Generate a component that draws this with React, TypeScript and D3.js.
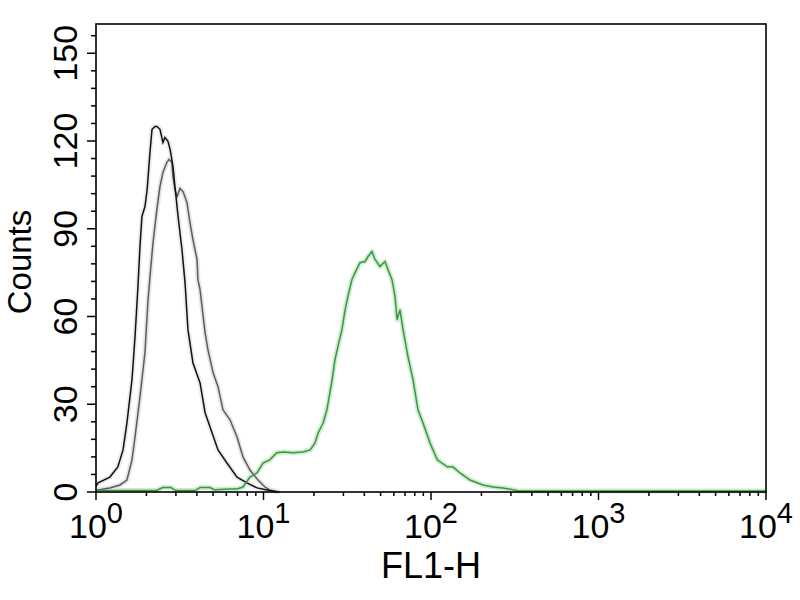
import React, { useEffect, useRef } from 'react';
import * as d3 from 'd3';

// [FL1-H, counts]
const blackControl: [number, number][] = [
  [1.0, 2], [1.03, 3.1], [1.21, 5.1], [1.35, 8.6], [1.45, 14.4], [1.53, 23.6], [1.64, 38.4],
  [1.71, 53.1], [1.78, 70.2], [1.83, 83.9], [1.88, 94.2], [1.96, 97.6], [2.02, 103.4],
  [2.1, 116.1], [2.16, 124], [2.25, 125], [2.31, 125], [2.41, 124], [2.51, 119.5],
  [2.58, 121.2], [2.69, 119.9], [2.77, 117.1], [2.88, 111.3], [2.96, 104.5], [3.09, 94.2],
  [3.26, 82.9], [3.4, 71.6], [3.54, 55.5], [3.79, 44.2], [4.18, 37.3], [4.48, 27.1],
  [4.79, 22.3], [5.35, 14.4], [6.05, 9.9], [6.95, 5.1], [7.97, 3.1], [9.15, 1.4],
  [10.5, 0.7], [12.0, 0],
];

const grayControl: [number, number][] = [
  [1.0, 0.5], [1.03, 0.7], [1.21, 1.4], [1.39, 2.4], [1.53, 4.1], [1.64, 11], [1.71, 18.8],
  [1.83, 32.5], [1.96, 47.6], [2.04, 64.7], [2.1, 73.6], [2.19, 85.3], [2.31, 96.6],
  [2.41, 104.5], [2.51, 109.2], [2.65, 112.7], [2.73, 113.7], [2.84, 112.7], [2.88, 107.9],
  [2.96, 103.4], [3.05, 101], [3.17, 103.8], [3.31, 102.7], [3.49, 99], [3.64, 92.1],
  [3.79, 86.3], [4.01, 79.5], [4.06, 72.6], [4.18, 69.2], [4.48, 54.5], [4.66, 48.6],
  [5.0, 40.8], [5.35, 36], [5.73, 28.1], [6.31, 24.7], [6.95, 18.8], [7.54, 12],
  [8.3, 7.5], [9.27, 4.1], [10.2, 1.7], [10.9, 0.7], [12.5, 0],
];

const greenStained: [number, number][] = [
  [1.0, 0.5], [2.3, 0.5], [2.5, 1.5], [2.8, 1.5], [3.0, 0.5], [3.9, 0.5], [4.18, 1.5],
  [4.48, 1.5], [4.79, 1.5], [5.1, 0.8], [6.31, 1], [6.95, 1], [7.54, 1.7], [8.3, 5.1],
  [9.14, 6.5], [9.94, 9.9], [10.9, 11], [12.0, 13.4], [13.1, 13.7], [15.0, 13.4],
  [17.2, 13.7], [19.0, 14.4], [20.3, 16.8], [21.2, 20.2], [22.7, 23.6], [23.9, 28.1],
  [25.7, 38.4], [26.7, 45.2], [27.8, 49.7], [29.4, 55.5], [30.7, 62.3], [31.9, 66.8],
  [33.7, 72.6], [35.2, 75], [37.7, 78.4], [40.4, 78.8], [42.1, 80.5], [44.4, 82.2],
  [46.3, 79.5], [49.6, 77.1], [53.1, 78.8], [55.4, 76], [58.5, 72.6], [61.0, 66.8],
  [62.7, 58.9], [65.3, 62.3], [68.1, 55.5], [72.9, 46.2], [78.1, 38.4], [83.6, 28.1],
  [89.6, 23.6], [98.6, 16.8], [109, 11], [125, 8.6], [135, 8.6], [149, 6.5], [171, 4.1],
  [204, 2.4], [235, 1.7], [269, 1.4], [340, 0.3], [10000, 0.3],
];

const yMajorTicks = [0, 30, 60, 90, 120, 150];
const xDecades = [0, 1, 2, 3, 4];

const FONT = 'Liberation Sans, Arial, Helvetica, sans-serif';

export default function App() {
  const svgRef = useRef<SVGSVGElement>(null);

  useEffect(() => {
    const svg = d3.select(svgRef.current);
    svg.selectAll('*').remove();

    const margin = { top: 24, right: 34, bottom: 108, left: 96 };
    const width = 800 - margin.left - margin.right;
    const height = 600 - margin.top - margin.bottom;

    const x = d3.scaleLog().domain([1, 10000]).range([0, width]);
    const y = d3.scaleLinear().domain([0, 160]).range([height, 0]);

    const g = svg.append('g').attr('transform', `translate(${margin.left},${margin.top})`);

    // histogram traces
    const line = d3
      .line<[number, number]>()
      .x((d) => x(d[0]))
      .y((d) => y(d[1]));

    const traces = [
      { data: greenStained, color: '#3d9447', halo: '#cdeecd' },
      { data: grayControl, color: '#5c5c5c', halo: '#e6e6e6' },
      { data: blackControl, color: '#111111', halo: '#ebebeb' },
    ];

    traces.forEach((t) => {
      g.append('path')
        .datum(t.data)
        .attr('fill', 'none')
        .attr('stroke', t.halo)
        .attr('stroke-width', 5)
        .attr('stroke-linejoin', 'round')
        .attr('d', line);
    });
    [traces[1], traces[2], traces[0]].forEach((t) => {
      g.append('path')
        .datum(t.data)
        .attr('fill', 'none')
        .attr('stroke', t.color)
        .attr('stroke-width', 1.5)
        .attr('d', line);
    });

    // frame
    g.append('rect')
      .attr('width', width)
      .attr('height', height)
      .attr('fill', 'none')
      .attr('stroke', '#000')
      .attr('stroke-width', 1.6);

    // y ticks
    const yMinor = d3.range(0, 161, 6).filter((v) => !yMajorTicks.includes(v));
    g.selectAll('.ymin')
      .data(yMinor)
      .join('line')
      .attr('x1', -5)
      .attr('x2', 0)
      .attr('y1', (d) => y(d))
      .attr('y2', (d) => y(d))
      .attr('stroke', '#000')
      .attr('stroke-width', 1.5);
    g.selectAll('.ymaj')
      .data(yMajorTicks)
      .join('line')
      .attr('x1', -9)
      .attr('x2', 0)
      .attr('y1', (d) => y(d))
      .attr('y2', (d) => y(d))
      .attr('stroke', '#000')
      .attr('stroke-width', 1.5);
    g.selectAll('.ylab')
      .data(yMajorTicks)
      .join('text')
      .attr('transform', (d) => `translate(-19,${y(d)}) rotate(-90)`)
      .attr('text-anchor', 'middle')
      .attr('font-family', FONT)
      .attr('font-size', 34)
      .attr('fill', '#000')
      .text((d) => d);

    // x ticks
    const xMinor = d3.range(0, 4).flatMap((p) => d3.range(2, 10).map((m) => m * Math.pow(10, p)));
    g.selectAll('.xmin')
      .data(xMinor)
      .join('line')
      .attr('x1', (d) => x(d))
      .attr('x2', (d) => x(d))
      .attr('y1', height)
      .attr('y2', height + 4)
      .attr('stroke', '#000')
      .attr('stroke-width', 1.5);
    g.selectAll('.xmaj')
      .data(xDecades)
      .join('line')
      .attr('x1', (d) => x(Math.pow(10, d)))
      .attr('x2', (d) => x(Math.pow(10, d)))
      .attr('y1', height)
      .attr('y2', height + 8)
      .attr('stroke', '#000')
      .attr('stroke-width', 1.5);
    const xl = g
      .selectAll('.xlab')
      .data(xDecades)
      .join('text')
      .attr('x', (d) => x(Math.pow(10, d)))
      .attr('y', height + 46)
      .attr('text-anchor', 'middle')
      .attr('font-family', FONT)
      .attr('fill', '#000');
    xl.append('tspan').attr('font-size', 34).text('10');
    xl.append('tspan').attr('font-size', 29).attr('dy', -15).text((d) => d);

    // axis titles
    g.append('text')
      .attr('x', x(Math.pow(10, 2)))
      .attr('y', height + 86)
      .attr('text-anchor', 'middle')
      .attr('font-family', FONT)
      .attr('font-size', 36)
      .attr('fill', '#000')
      .text('FL1-H');

    g.append('text')
      .attr('transform', `translate(${31 - margin.left},${262 - margin.top}) rotate(-90)`)
      .attr('text-anchor', 'middle')
      .attr('font-family', FONT)
      .attr('font-size', 33)
      .attr('fill', '#000')
      .text('Counts');
  }, []);

  return (
    <svg
      ref={svgRef}
      width={800}
      height={600}
      style={{ position: 'absolute', left: 0, top: 0, background: '#fff' }}
    />
  );
}
